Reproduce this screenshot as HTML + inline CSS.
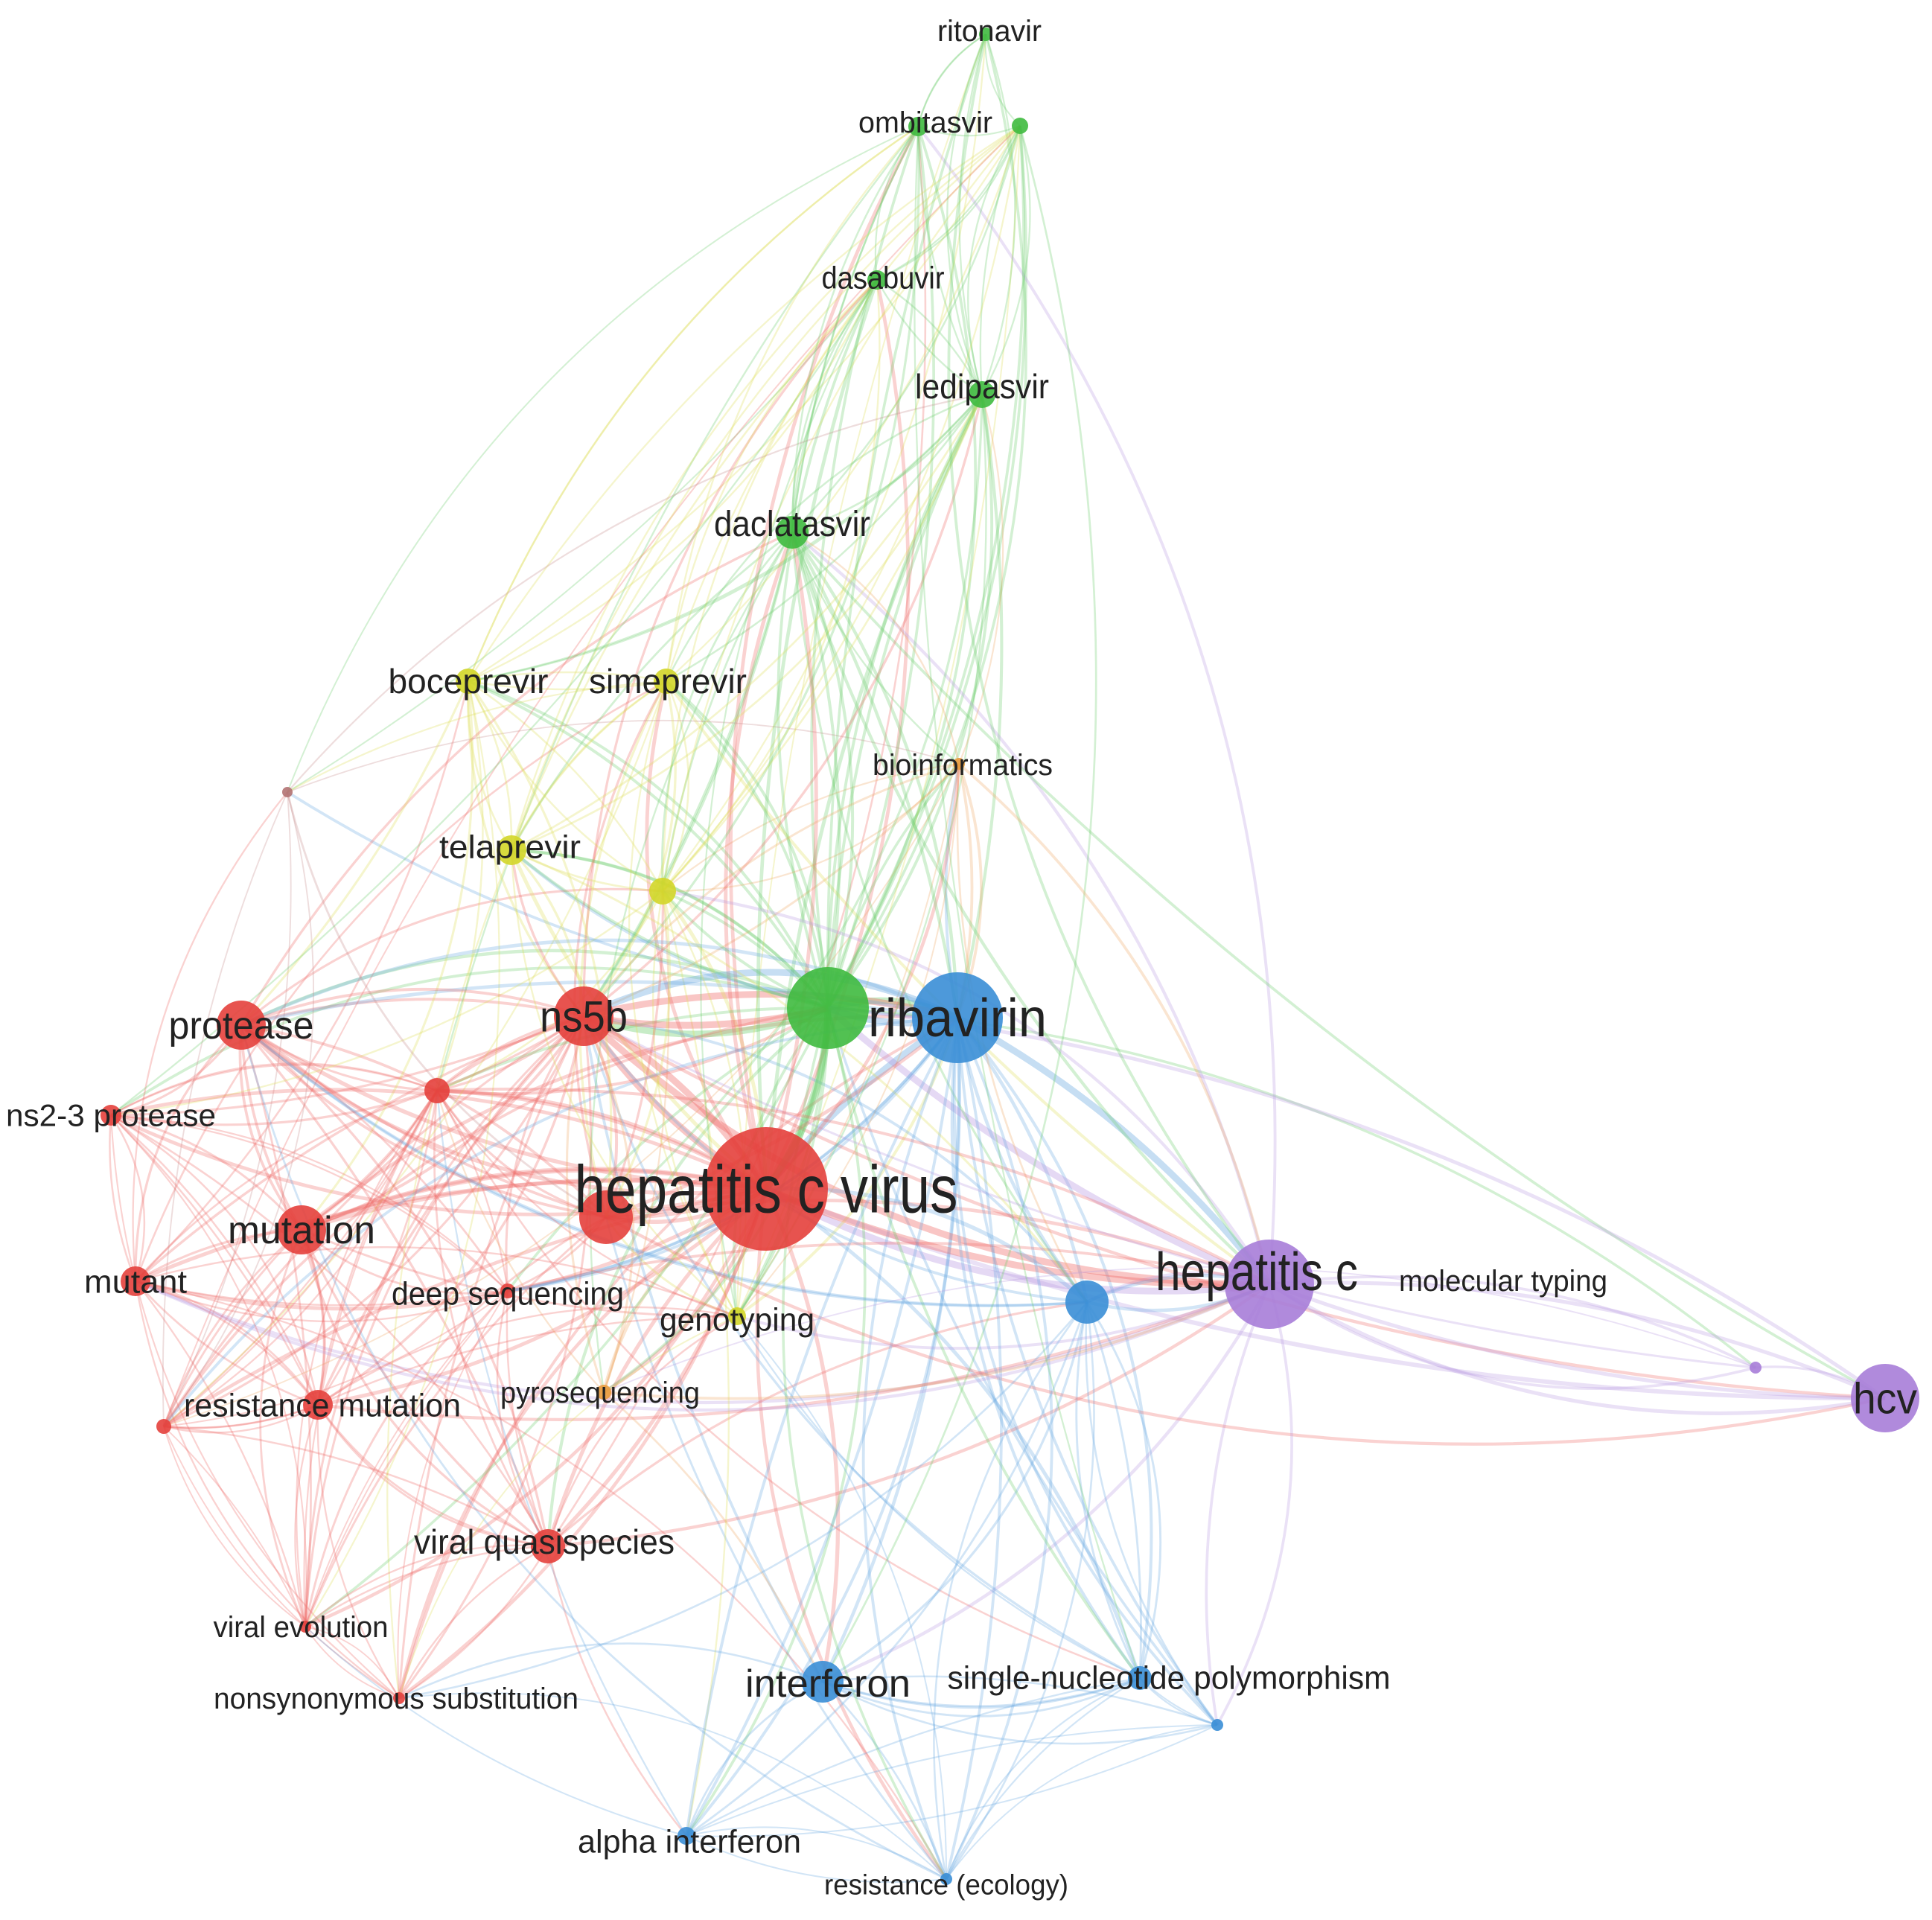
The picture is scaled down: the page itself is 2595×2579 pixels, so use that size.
<!DOCTYPE html>
<html><head><meta charset="utf-8">
<style>
html,body{margin:0;padding:0;background:#fff;}
svg{display:block;}
text{font-family:"Liberation Sans Narrow","Liberation Sans",sans-serif;fill:#222;}
</style></head>
<body>
<svg id="s" width="2595" height="2579" viewBox="0 0 2595 2579" xmlns="http://www.w3.org/2000/svg">
<rect width="2595" height="2579" fill="#fff"/>
<g id="edges" fill="none"></g>
<g id="nodes"></g>
<g id="labels"></g>
</svg>
<script>
var C={r:'#e4403c',g:'#3fba3f',b:'#3a8ed6',y:'#d3d629',p:'#a77dd8',br:'#b27272',o:'#e89a3c'};
var EC={r:'#ee6a66',g:'#6ccc6c',b:'#6aa9e0',y:'#dede5a',p:'#bb9ae2',br:'#c89090',o:'#eeaa66'};
var N=[
[1029,1597,83,'r'],[1286,1367,61,'b'],[1112,1354,55,'g'],[784,1365,40,'r'],[324,1377,33,'r'],
[587,1465,17,'r'],[814,1635,36,'r'],[405,1652,33,'r'],[182,1721,20,'r'],[149,1498,14,'r'],
[427,1887,20,'r'],[220,1916,10,'r'],[736,2077,23,'r'],[410,2185,8,'r'],[536,2281,8,'r'],
[682,1734,10,'r'],[811,1870,10,'o'],[990,1768,12,'y'],[687,1142,20,'y'],[890,1197,18,'y'],
[629,915,17,'y'],[895,915,17,'y'],[386,1064,7,'br'],[1064,715,22,'g'],[1319,530,18,'g'],
[1178,376,13,'g'],[1233,170,13,'g'],[1370,169,11,'g'],[1324,46,9,'g'],[1288,1026,8,'o'],
[1460,1749,29,'b'],[1705,1725,60,'p'],[2358,1837,8,'p'],[2532,1878,46,'p'],[1105,2259,28,'b'],
[1531,2254,16,'b'],[1635,2317,8,'b'],[922,2466,12,'b'],[1271,2524,8,'b']
];
var seed=11;function rnd(){seed=(seed*16807)%2147483647;return seed/2147483647;}
var hubs={0:1,1:1,2:1,3:1,31:1};
var html='';
function edge(a,b,w,op,col,bmul){
 var dx=b[0]-a[0],dy=b[1]-a[1],L=Math.sqrt(dx*dx+dy*dy);
 var bend=(0.08+0.16*rnd())*bmul*L;
 var mx=(a[0]+b[0])/2-dy/L*bend,my=(a[1]+b[1])/2+dx/L*bend;
 html+='<path d="M'+a[0]+','+a[1]+' Q'+mx.toFixed(0)+','+my.toFixed(0)+' '+b[0]+','+b[1]+'" stroke="'+col+'" stroke-width="'+w.toFixed(1)+'" stroke-opacity="'+op+'"/>';
}
for(var rep=0;rep<3;rep++)
for(var i=0;i<N.length;i++)for(var j=i+1;j<N.length;j++){
 var a=N[i],b=N[j];
 var dx=b[0]-a[0],dy=b[1]-a[1],L=Math.sqrt(dx*dx+dy*dy);
 var same=a[3]==b[3]||(a[3]=='y'&&b[3]=='g')||(a[3]=='g'&&b[3]=='y');
 var p;
 if(hubs[i]&&hubs[j])p=rep==0?1:0.6;
 else if(hubs[i]||hubs[j])p=same?0.9:0.55*Math.exp(-L/1500);
 else p=(same?0.8:0.3)*Math.exp(-L/(same?1600:900));
 if(rep>0)p*=0.6;
 if((i==32||i==33||j==32||j==33)&&!(a[3]=='p'||b[3]=='p'||hubs[i]||hubs[j]))p*=0.1;
 if(rnd()>p)continue;
 var col=EC[(a[2]>=b[2]?a:b)[3]];
 if(!same&&rnd()<0.5)col=EC[(a[2]<b[2]?a:b)[3]];
 var w=(hubs[i]&&hubs[j])?9:((a[2]+b[2])/28+1.3);
 var op=(hubs[i]&&hubs[j])?0.38:0.3;
 edge(a,b,w,op,col,rnd()<0.5?-1:1);
}
document.getElementById('edges').innerHTML=html;
var nh='';
N.forEach(function(n){nh+='<circle cx="'+n[0]+'" cy="'+n[1]+'" r="'+n[2]+'" fill="'+C[n[3]]+'" fill-opacity="0.9"/>';});
document.getElementById('nodes').innerHTML=nh;
var lh='';
var Ls=[
['hepatitis c virus',1029,1597,90,515],['ribavirin',1286,1367,72,240],['ns5b',784,1365,58,118],
['protease',324,1377,52,195],['mutation',405,1652,52,198],['mutant',182,1721,44,138],
['ns2-3 protease',149,1498,42,282],['resistance mutation',433,1887,44,372],['viral quasispecies',731,2071,46,350],
['viral evolution',404,2185,40,235],['nonsynonymous substitution',532,2281,40,490],['deep sequencing',682,1737,44,312],
['pyrosequencing',806,1870,40,268],['genotyping',990,1772,44,208],['telaprevir',685,1137,44,190],
['boceprevir',629,915,46,215],['simeprevir',897,915,46,212],['daclatasvir',1064,703,48,210],
['ledipasvir',1319,519,46,180],['dasabuvir',1186,373,42,165],['ombitasvir',1243,164,40,180],
['ritonavir',1329,41,40,140],['bioinformatics',1293,1027,40,242],['hepatitis c',1688,1708,72,272],
['molecular typing',2019,1720,40,280],['hcv',2532,1878,58,86],['interferon',1112,2261,52,222],
['single-nucleotide polymorphism',1570,2253,44,595],['alpha interferon',926,2473,44,300],['resistance (ecology)',1271,2531,38,328]
];
Ls.forEach(function(l){lh+='<text x="'+l[1]+'" y="'+(l[2]+l[3]*0.35)+'" font-size="'+l[3]+'" text-anchor="middle" textLength="'+l[4]+'" lengthAdjust="spacingAndGlyphs">'+l[0]+'</text>';});
document.getElementById('labels').innerHTML=lh;
</script>
</body></html>
